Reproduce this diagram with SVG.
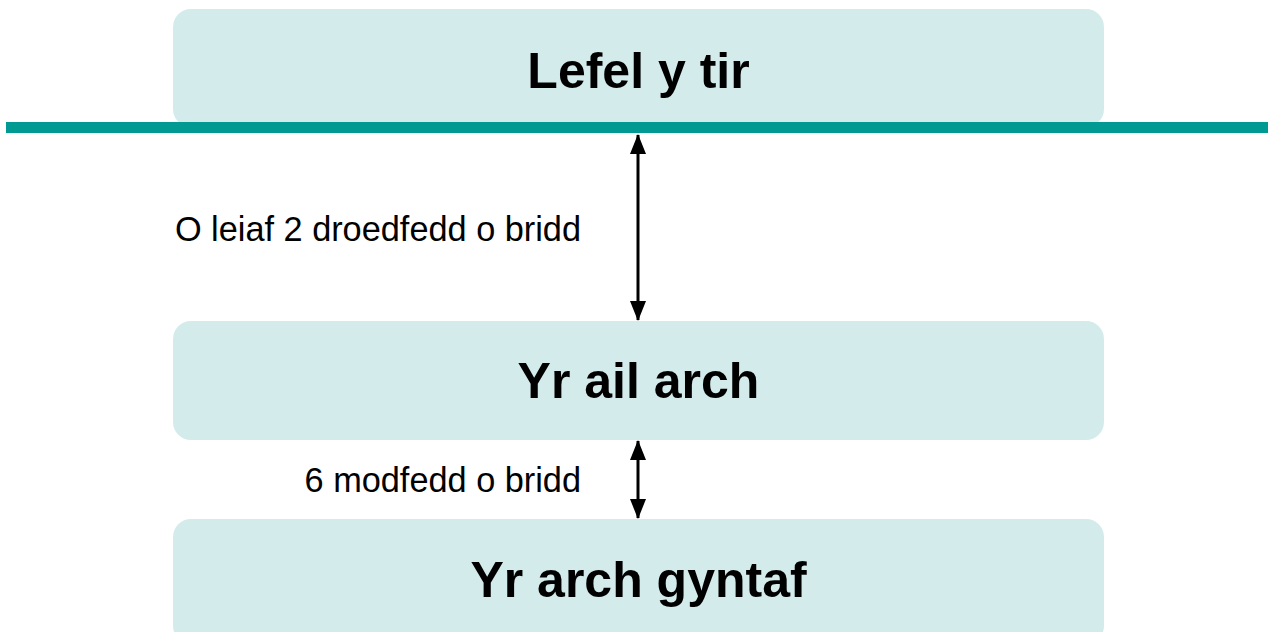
<svg xmlns="http://www.w3.org/2000/svg" width="1268" height="632" viewBox="0 0 1268 632">
  <style>
    .box { fill: #d4ebec; }
    .title { font-family: "Liberation Sans", Arial, sans-serif; font-weight: bold; font-size: 50px; fill: #000; text-anchor: middle; }
    .label { font-family: "Liberation Sans", Arial, sans-serif; font-size: 34.3px; fill: #000; text-anchor: end; }
    .conn { stroke: #000; stroke-width: 3; fill: none; marker-start: url(#ah); marker-end: url(#ah); }
  </style>
  <defs>
    <marker id="ah" viewBox="0 0 20 16" refX="19" refY="8" markerWidth="20" markerHeight="16" markerUnits="userSpaceOnUse" orient="auto-start-reverse">
      <path d="M0,0 L20,8 L0,16 Z" fill="#000"/>
    </marker>
  </defs>
  <rect width="1268" height="632" fill="#fff"/>
  <g id="node-ground">
    <rect class="box" x="173" y="9" width="931" height="118" rx="18"/>
    <text class="title" x="638.5" y="88">Lefel y tir</text>
  </g>
  <g id="ground-line">
    <rect x="6" y="122" width="1262" height="11" fill="#009a93"/>
  </g>
  <g id="node-second">
    <rect class="box" x="173" y="321" width="931" height="119" rx="18"/>
    <text class="title" x="638.5" y="398">Yr ail arch</text>
  </g>
  <g id="node-first">
    <rect class="box" x="173" y="519" width="931" height="125" rx="18"/>
    <text class="title" x="638.5" y="597">Yr arch gyntaf</text>
  </g>
  <g id="connectors">
    <line class="conn" x1="638" y1="135" x2="638" y2="320"/>
    <line class="conn" x1="638" y1="441" x2="638" y2="518"/>
  </g>
  <g id="labels">
    <text class="label" x="581" y="241">O leiaf 2 droedfedd o bridd</text>
    <text class="label" x="581" y="492">6 modfedd o bridd</text>
  </g>
</svg>
